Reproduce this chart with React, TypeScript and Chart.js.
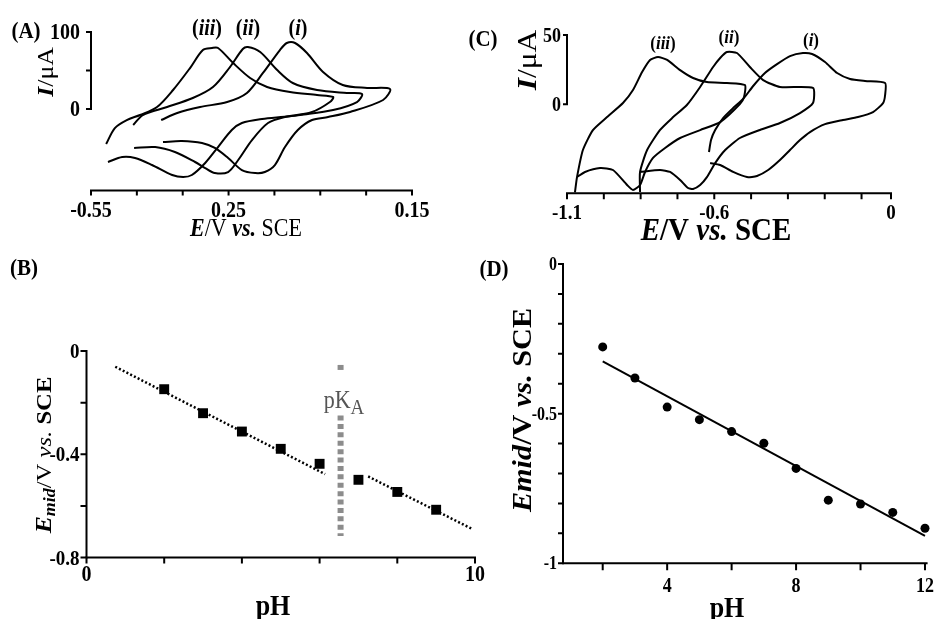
import React, { useEffect, useRef } from 'react';
import { Chart, registerables } from 'chart.js';

Chart.register(...registerables);

const SERIF = "'Liberation Serif', 'Times New Roman', Times, serif";
const STRETCH = 1.12;
const W = 936;
const H = 619;

// ---------------- Panel A (CV, three pH values) ----------------
const A_X_TICKS = [-0.55, -0.45, -0.35, -0.25, -0.15, -0.05, 0.05, 0.15];
const A_X_TICK_TEXT = ['-0.55', '', '', '0.25', '', '', '', '0.15'];
const A_Y_TICKS = [0, 50, 100];
const A_Y_TICK_TEXT = ['0', '', '100'];

const A_III_E = [-0.517, -0.498, -0.472, -0.443, -0.406, -0.371, -0.334, -0.306, -0.286, -0.273, -0.24, -0.203, -0.166, -0.116, -0.057, -0.022,
  -0.029, -0.068, -0.116, -0.177, -0.221, -0.243, -0.273, -0.301, -0.33, -0.349, -0.373, -0.417, -0.454, -0.482, -0.513];
const A_III_I = [-45.5, -24.7, -14.3, -7.8, 2.6, 24.7, 53.2, 76.6, 79.2, 79.2, 59.7, 40.3, 28.6, 22.1, 18.2, 15.6,
  9.1, -3.9, -9.1, -13.0, -18.2, -27.3, -49.4, -70.1, -85.7, -88.3, -85.7, -72.7, -63.6, -62.3, -68.8];

const A_II_E = [-0.458, -0.437, -0.384, -0.328, -0.284, -0.247, -0.219, -0.208, -0.181, -0.144, -0.11, -0.057, 0.008, 0.041,
  0.03, -0.022, -0.094, -0.127, -0.164, -0.199, -0.229, -0.251, -0.28, -0.301, -0.323, -0.367, -0.41, -0.456];
const A_II_I = [-20.8, -7.8, 2.6, 14.3, 28.6, 54.5, 77.9, 80.5, 74.0, 50.6, 33.8, 24.7, 20.8, 19.5,
  9.1, -1.3, -7.8, -10.4, -18.2, -40.3, -66.2, -81.8, -83.1, -76.6, -68.8, -55.8, -49.4, -50.6];

const A_I_E = [-0.397, -0.362, -0.312, -0.253, -0.21, -0.175, -0.138, -0.123, -0.105, -0.079, -0.044, -0.001, 0.052, 0.102,
  0.087, 0.015, -0.033, -0.068, -0.099, -0.127, -0.149, -0.171, -0.192, -0.221, -0.251, -0.28, -0.308, -0.352, -0.393];
const A_I_I = [-14.3, -5.2, 2.6, 9.1, 20.8, 46.8, 76.6, 85.7, 85.7, 72.7, 48.1, 31.2, 27.3, 26.0,
  11.7, -3.9, -10.4, -14.3, -27.3, -49.4, -72.7, -81.8, -83.1, -79.2, -63.6, -50.6, -44.2, -41.6, -42.9];

// ---------------- Panel C (CV, three pH values) ----------------
const C_X_TICKS = [-1.1, -0.975, -0.85, -0.725, -0.6, -0.475, -0.35, -0.225, -0.1, 0];
const C_X_TICK_TEXT = ['-1.1', '', '', '', '-0.6', '', '', '', '', '0'];
const C_Y_TICKS = [0, 50];
const C_Y_TICK_TEXT = ['0', '50'];

const C_III_E = [-1.073, -1.066, -1.046, -1.012, -0.964, -0.91, -0.876, -0.845, -0.818, -0.791, -0.76, -0.716, -0.672, -0.625, -0.557, -0.496,
  -0.499, -0.513, -0.58, -0.648, -0.716, -0.767, -0.808, -0.835, -0.852, -0.876, -0.896, -0.944, -0.988, -1.039, -1.066];
const C_III_I = [-63.5, -52.5, -33.0, -18.6, -9.2, 0.9, 10.3, 23.3, 32.0, 34.1, 32.0, 24.7, 19.0, 16.1, 15.4, 13.9,
  5.3, 0.2, -12.8, -18.6, -24.3, -31.5, -38.7, -48.8, -58.2, -61.8, -58.2, -47.4, -46.0, -48.8, -52.5];

const C_II_E = [-0.852, -0.852, -0.828, -0.784, -0.743, -0.693, -0.648, -0.604, -0.58, -0.557, -0.523, -0.479, -0.434, -0.377, -0.265,
  -0.265, -0.309, -0.377, -0.445, -0.513, -0.563, -0.597, -0.625, -0.648, -0.672, -0.689, -0.716, -0.75, -0.784, -0.852];
const C_II_I = [-63.3, -48.8, -33.0, -18.5, -9.9, -0.5, 12.5, 26.9, 33.4, 37.7, 37.0, 26.9, 17.5, 12.5, 11.8,
  0.9, -6.3, -13.5, -18.5, -24.3, -33.0, -42.4, -52.5, -58.2, -61.1, -60.4, -54.6, -48.8, -47.4, -48.8];

const C_I_E = [-0.618, -0.611, -0.597, -0.57, -0.536, -0.502, -0.468, -0.428, -0.387, -0.343, -0.299, -0.268, -0.224, -0.183, -0.139, -0.088, -0.02,
  -0.02, -0.027, -0.061, -0.112, -0.163, -0.224, -0.275, -0.309, -0.343, -0.377, -0.417, -0.455, -0.489, -0.536, -0.58, -0.614];
const C_I_I = [-34.4, -25.8, -18.6, -9.9, -2.7, 3.8, 13.2, 22.6, 29.0, 34.8, 37.0, 36.3, 30.5, 22.6, 18.3, 16.8, 15.4,
  6.7, 0.9, -5.6, -9.2, -11.3, -14.3, -20.0, -25.8, -33.0, -40.2, -47.4, -51.7, -52.5, -48.8, -43.8, -42.4];

// ---------------- Panel B (Emid vs pH with pKa break) ----------------
const B_PH = [2, 3, 4, 5, 6, 7, 8, 9];
const B_EMID = [-0.148, -0.241, -0.312, -0.379, -0.437, -0.499, -0.546, -0.615];
const B_FIT1_PH = [0.74, 6.14];
const B_FIT1_E = [-0.061, -0.477];
const B_FIT2_PH = [7.25, 9.92];
const B_FIT2_E = [-0.486, -0.689];
const B_PKA = 6.54;
const B_PKA_TOP_E = [-0.054, -0.085];
const B_PKA_BOTTOM_E = [-0.25, -0.717];
const B_X_TICKS = [0, 2, 4, 6, 8, 10];
const B_X_TICK_TEXT = ['0', '', '', '', '', '10'];
const B_Y_TICKS = [0, -0.2, -0.4, -0.6, -0.8];
const B_Y_TICK_TEXT = ['0', '', '-0.4', '', '-0.8'];

// ---------------- Panel D (Emid vs pH, linear) ----------------
const D_PH = [2, 3, 4, 5, 6, 7, 8, 9, 10, 11, 12];
const D_EMID = [-0.277, -0.381, -0.478, -0.52, -0.56, -0.599, -0.683, -0.789, -0.802, -0.83, -0.883];
const D_FIT_PH = [2, 12];
const D_FIT_E = [-0.325, -0.908];
const D_X_TICKS = [2, 4, 6, 8, 10, 12];
const D_X_TICK_TEXT = ['', '4', '', '8', '', '12'];
const D_Y_TICKS = [0, -0.1, -0.2, -0.3, -0.4, -0.5, -0.6, -0.7, -0.8, -0.9, -1];
const D_Y_TICK_TEXT = ['0', '', '', '', '', '-0.5', '', '', '', '', '-1'];

// ---------------- helpers ----------------
type Seg = { t: string; f: string; s: number; dy?: number; c?: string };
type TextSpec = { segs: Seg[]; x: number; y: number; rot?: number; align?: 'center' | 'left' | 'right' };
type AxisSpec = { from: number; to: number; ticks: number[]; text: string[]; len: number; off: number; size: number };
type PanelCfg = {
  id: string;
  area: { l: number; t: number; r: number; b: number };
  xr: [number, number];
  yr: [number, number];
  xAxis: AxisSpec;
  yAxis: AxisSpec;
  texts: TextSpec[];
  datasets: any[];
};

const pts = (xs: number[], ys: number[]) => xs.map((x, i) => ({ x, y: ys[i] }));

function drawText(ctx: CanvasRenderingContext2D, spec: TextSpec) {
  const { segs, x, y, rot = 0, align = 'center' } = spec;
  ctx.save();
  ctx.translate(x, y);
  ctx.scale(1, STRETCH);
  if (rot) ctx.rotate(rot);
  let total = 0;
  let maxS = 0;
  const widths = segs.map((s) => {
    ctx.font = `${s.f} ${s.s}px ${SERIF}`;
    const w = ctx.measureText(s.t).width;
    total += w;
    if (s.s > maxS) maxS = s.s;
    return w;
  });
  let cx = align === 'center' ? -total / 2 : align === 'right' ? -total : 0;
  const base = maxS * 0.33;
  ctx.textBaseline = 'alphabetic';
  ctx.textAlign = 'left';
  segs.forEach((s, i) => {
    ctx.font = `${s.f} ${s.s}px ${SERIF}`;
    ctx.fillStyle = s.c || '#000';
    ctx.fillText(s.t, cx, base + (s.dy || 0));
    cx += widths[i];
  });
  ctx.restore();
}

function makeDecor(cfg: PanelCfg) {
  return {
    id: 'decor_' + cfg.id,
    afterDraw(chart: any) {
      const ctx: CanvasRenderingContext2D = chart.ctx;
      const xs = chart.scales.x;
      const ys = chart.scales.y;
      const a = chart.chartArea;
      ctx.save();
      ctx.strokeStyle = '#000';
      ctx.lineWidth = 2;
      ctx.lineCap = 'butt';
      // x axis
      const xa = cfg.xAxis;
      const by = a.bottom;
      ctx.beginPath();
      ctx.moveTo(xs.getPixelForValue(xa.from) - 1, by);
      ctx.lineTo(xs.getPixelForValue(xa.to) + 1, by);
      xa.ticks.forEach((t) => {
        const p = xs.getPixelForValue(t);
        ctx.moveTo(p, by);
        ctx.lineTo(p, by + xa.len);
      });
      ctx.stroke();
      // y axis
      const ya = cfg.yAxis;
      const lx = a.left;
      ctx.beginPath();
      ctx.moveTo(lx, ys.getPixelForValue(ya.from) + 1);
      ctx.lineTo(lx, ys.getPixelForValue(ya.to) - 1);
      ya.ticks.forEach((t) => {
        const p = ys.getPixelForValue(t);
        ctx.moveTo(lx, p);
        ctx.lineTo(lx - ya.len, p);
      });
      ctx.stroke();
      ctx.restore();
      // tick labels
      xa.ticks.forEach((t, i) => {
        const txt = xa.text[i];
        if (!txt) return;
        drawText(ctx, { segs: [{ t: txt, f: 'bold', s: xa.size }], x: xs.getPixelForValue(t), y: by + xa.off });
      });
      ya.ticks.forEach((t, i) => {
        const txt = ya.text[i];
        if (!txt) return;
        drawText(ctx, { segs: [{ t: txt, f: 'bold', s: ya.size }], x: lx - ya.off, y: ys.getPixelForValue(t), align: 'right' });
      });
      cfg.texts.forEach((t) => drawText(ctx, t));
    },
  };
}

const line = (data: any[], extra: any = {}) => ({
  data,
  showLine: true,
  borderColor: '#000',
  backgroundColor: '#000',
  borderWidth: 2,
  pointRadius: 0,
  tension: 0.3,
  fill: false,
  clip: false,
  ...extra,
});

const ROT = -Math.PI / 2;

const panels: PanelCfg[] = [
  {
    id: 'A',
    area: { l: 91, t: 32, r: 412, b: 190.5 },
    xr: [-0.55, 0.15],
    yr: [-105.8, 100],
    xAxis: { from: -0.55, to: 0.15, ticks: A_X_TICKS, text: A_X_TICK_TEXT, len: 5, off: 19.5, size: 20 },
    yAxis: { from: 0, to: 100, ticks: A_Y_TICKS, text: A_Y_TICK_TEXT, len: 5, off: 11, size: 20 },
    texts: [
      { segs: [{ t: '(A)', f: 'bold', s: 21 }], x: 26, y: 30 },
      { segs: [{ t: '(', f: 'bold', s: 20 }, { t: 'iii', f: 'italic bold', s: 20 }, { t: ')', f: 'bold', s: 20 }], x: 207, y: 28 },
      { segs: [{ t: '(', f: 'bold', s: 20 }, { t: 'ii', f: 'italic bold', s: 20 }, { t: ')', f: 'bold', s: 20 }], x: 248, y: 28 },
      { segs: [{ t: '(', f: 'bold', s: 20 }, { t: 'i', f: 'italic bold', s: 20 }, { t: ')', f: 'bold', s: 20 }], x: 298, y: 28 },
      { segs: [{ t: 'E', f: 'italic bold', s: 22 }, { t: '/V ', f: 'normal', s: 22 }, { t: 'vs.', f: 'italic bold', s: 22 }, { t: ' SCE', f: 'normal', s: 22 }], x: 246, y: 228 },
      { segs: [{ t: 'I', f: 'italic bold', s: 23 }, { t: '/μA', f: 'normal', s: 23 }], x: 45, y: 72, rot: ROT },
    ],
    datasets: [line(pts(A_III_E, A_III_I)), line(pts(A_II_E, A_II_I)), line(pts(A_I_E, A_I_I))],
  },
  {
    id: 'C',
    area: { l: 567, t: 35, r: 891, b: 193.3 },
    xr: [-1.1, 0],
    yr: [-64.2, 50],
    xAxis: { from: -1.1, to: 0, ticks: C_X_TICKS, text: C_X_TICK_TEXT, len: 6, off: 19, size: 19 },
    yAxis: { from: 0, to: 50, ticks: C_Y_TICKS, text: C_Y_TICK_TEXT, len: 4, off: 6, size: 18 },
    texts: [
      { segs: [{ t: '(C)', f: 'bold', s: 21 }], x: 483, y: 38 },
      { segs: [{ t: '(', f: 'bold', s: 17 }, { t: 'iii', f: 'italic bold', s: 17 }, { t: ')', f: 'bold', s: 17 }], x: 663, y: 43 },
      { segs: [{ t: '(', f: 'bold', s: 17 }, { t: 'ii', f: 'italic bold', s: 17 }, { t: ')', f: 'bold', s: 17 }], x: 729, y: 37 },
      { segs: [{ t: '(', f: 'bold', s: 17 }, { t: 'i', f: 'italic bold', s: 17 }, { t: ')', f: 'bold', s: 17 }], x: 811, y: 40 },
      { segs: [{ t: 'E', f: 'italic bold', s: 29 }, { t: '/V ', f: 'bold', s: 29 }, { t: 'vs.', f: 'italic bold', s: 29 }, { t: ' SCE', f: 'bold', s: 29 }], x: 716, y: 229 },
      { segs: [{ t: 'I', f: 'italic bold', s: 28 }, { t: '/μA', f: 'normal', s: 28 }], x: 527, y: 60, rot: ROT },
    ],
    datasets: [line(pts(C_III_E, C_III_I), { tension: 0.2 }), line(pts(C_II_E, C_II_I), { tension: 0.2 }), line(pts(C_I_E, C_I_I), { tension: 0.2 })],
  },
  {
    id: 'B',
    area: { l: 86.5, t: 351, r: 475, b: 557.5 },
    xr: [0, 10],
    yr: [-0.8, 0],
    xAxis: { from: 0, to: 10, ticks: B_X_TICKS, text: B_X_TICK_TEXT, len: 6, off: 16, size: 20 },
    yAxis: { from: -0.8, to: 0, ticks: B_Y_TICKS, text: B_Y_TICK_TEXT, len: 6, off: 7, size: 19 },
    texts: [
      { segs: [{ t: '(B)', f: 'bold', s: 21 }], x: 24, y: 267 },
      { segs: [{ t: 'pH', f: 'bold', s: 26 }], x: 273, y: 605 },
      {
        segs: [
          { t: 'E', f: 'italic bold', s: 23 },
          { t: 'mid', f: 'italic bold', s: 16, dy: 4 },
          { t: '/V ', f: 'normal', s: 22 },
          { t: 'vs.', f: 'italic', s: 22 },
          { t: ' SCE', f: 'bold', s: 22 },
        ],
        x: 43,
        y: 455,
        rot: ROT,
      },
      { segs: [{ t: 'pK', f: 'normal', s: 22, c: '#555' }, { t: 'A', f: 'normal', s: 19, dy: 5, c: '#555' }], x: 344, y: 400 },
    ],
    datasets: [
      line(pts([B_PKA, B_PKA], B_PKA_TOP_E), { borderColor: '#8c8c8c', borderWidth: 6, borderDash: [5, 3.4], tension: 0 }),
      line(pts([B_PKA, B_PKA], B_PKA_BOTTOM_E), { borderColor: '#8c8c8c', borderWidth: 6, borderDash: [5, 3.4], tension: 0 }),
      line(pts(B_FIT1_PH, B_FIT1_E), { borderWidth: 2.5, borderDash: [2, 2.2], tension: 0 }),
      line(pts(B_FIT2_PH, B_FIT2_E), { borderWidth: 2.5, borderDash: [2, 2.2], tension: 0 }),
      {
        data: pts(B_PH, B_EMID),
        showLine: false,
        pointStyle: 'rect',
        pointRadius: 7,
        pointBackgroundColor: '#000',
        pointBorderColor: '#000',
        pointBorderWidth: 0,
        clip: false,
      },
    ],
  },
  {
    id: 'D',
    area: { l: 563, t: 264, r: 926.6, b: 563.3 },
    xr: [0.768, 12.05],
    yr: [-1, 0],
    xAxis: { from: 0.768, to: 12.05, ticks: D_X_TICKS, text: D_X_TICK_TEXT, len: 7, off: 22, size: 18 },
    yAxis: { from: -1, to: 0, ticks: D_Y_TICKS, text: D_Y_TICK_TEXT, len: 5, off: 6, size: 16 },
    texts: [
      { segs: [{ t: '(D)', f: 'bold', s: 21 }], x: 494, y: 268 },
      { segs: [{ t: 'pH', f: 'bold', s: 26 }], x: 727, y: 607 },
      {
        segs: [
          { t: 'Emid', f: 'italic bold', s: 27 },
          { t: '/V ', f: 'bold', s: 27 },
          { t: 'vs.', f: 'italic bold', s: 27 },
          { t: ' SCE', f: 'bold', s: 27 },
        ],
        x: 522,
        y: 410,
        rot: ROT,
      },
    ],
    datasets: [
      line(pts(D_FIT_PH, D_FIT_E), { tension: 0 }),
      {
        data: pts(D_PH, D_EMID),
        showLine: false,
        pointStyle: 'circle',
        pointRadius: 4.5,
        pointBackgroundColor: '#000',
        pointBorderColor: '#000',
        pointBorderWidth: 0,
        clip: false,
      },
    ],
  },
];

function Panel({ cfg }: { cfg: PanelCfg }) {
  const ref = useRef<HTMLCanvasElement>(null);
  useEffect(() => {
    if (!ref.current) return;
    const chart = new Chart(ref.current, {
      type: 'scatter',
      data: { datasets: cfg.datasets },
      options: {
        animation: false,
        responsive: false,
        maintainAspectRatio: false,
        devicePixelRatio: 1,
        events: [],
        layout: {
          autoPadding: false,
          padding: { left: cfg.area.l, top: cfg.area.t, right: W - cfg.area.r, bottom: H - cfg.area.b },
        },
        plugins: { legend: { display: false }, tooltip: { enabled: false }, title: { display: false } },
        scales: {
          x: { type: 'linear', min: cfg.xr[0], max: cfg.xr[1], display: false },
          y: { type: 'linear', min: cfg.yr[0], max: cfg.yr[1], display: false },
        },
      } as any,
      plugins: [makeDecor(cfg)],
    });
    return () => chart.destroy();
  }, [cfg]);
  return <canvas ref={ref} width={W} height={H} style={{ position: 'absolute', left: 0, top: 0, width: W, height: H }} />;
}

export default function App() {
  return (
    <div style={{ position: 'absolute', left: 0, top: 0, width: W, height: H, background: '#fff', overflow: 'hidden' }}>
      {panels.map((p) => (
        <Panel key={p.id} cfg={p} />
      ))}
    </div>
  );
}
